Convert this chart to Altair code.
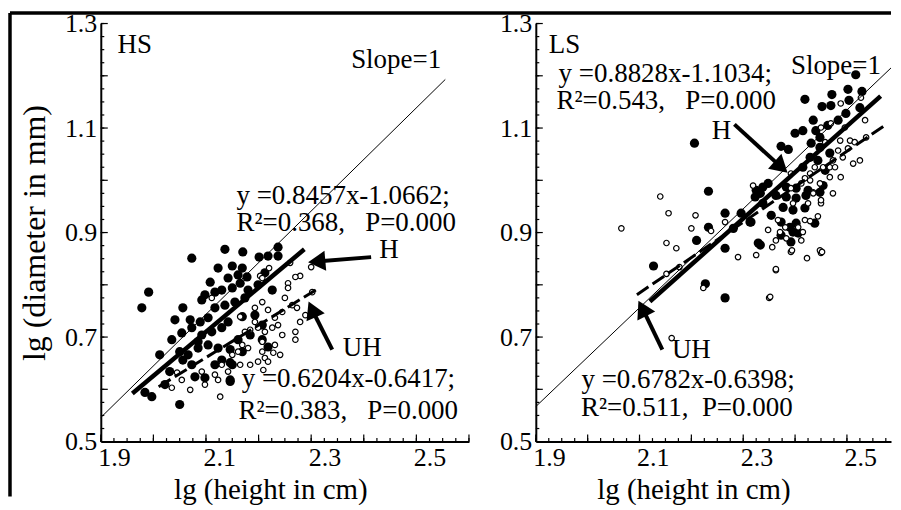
import altair as alt
import pandas as pd

FONT = "Liberation Serif"

# ---------------- data ----------------
X_LABELS = [1.9, 2.1, 2.3, 2.5]
Y_LABELS = [0.5, 0.7, 0.9, 1.1, 1.3]

# HS panel, H (filled) and UH (open) points: (lg height, lg diameter)
HS_H = [
    (2.073, 0.851), (2.136, 0.868), (2.170, 0.863), (2.201, 0.853), (2.218, 0.855), (2.237, 0.872), (2.237, 0.855),
    (2.123, 0.832), (2.150, 0.836), (2.169, 0.832), (2.161, 0.819), (2.142, 0.813), (2.178, 0.815), (2.212, 0.823),
    (1.991, 0.786), (1.978, 0.756), (2.056, 0.756), (2.092, 0.771), (2.117, 0.786), (2.150, 0.794), (2.180, 0.790),
    (2.226, 0.790), (2.070, 0.733), (2.089, 0.729), (2.104, 0.737), (2.117, 0.756), (2.136, 0.761), (2.155, 0.767),
    (2.174, 0.775), (2.193, 0.742), (2.207, 0.723), (2.035, 0.695), (2.054, 0.708), (2.073, 0.718), (2.092, 0.704),
    (2.111, 0.710), (2.130, 0.718), (2.142, 0.729), (2.169, 0.739), (2.050, 0.672), (2.066, 0.666), (2.085, 0.679),
    (2.104, 0.685), (2.123, 0.679), (2.085, 0.691), (2.073, 0.647), (2.056, 0.656), (2.117, 0.647), (2.130, 0.656),
    (2.218, 0.681), (2.079, 0.624), (2.098, 0.622), (2.146, 0.618), (2.150, 0.647), (1.984, 0.594), (1.997, 0.586),
    (2.022, 0.609), (2.050, 0.571), (2.108, 0.805), (2.098, 0.781), (2.130, 0.790), (2.165, 0.803), (2.199, 0.800),
    (2.041, 0.733), (2.012, 0.666), (2.031, 0.634), (2.161, 0.695), (2.184, 0.704), (2.207, 0.695), (2.146, 0.676),
    (2.146, 0.615), (2.169, 0.672), (2.146, 0.651),
]
HS_UH = [
    (2.220, 0.832), (2.203, 0.817), (2.260, 0.842), (2.300, 0.834), (2.279, 0.817), (2.270, 0.815), (2.256, 0.803),
    (2.207, 0.813), (2.111, 0.775), (2.165, 0.739), (2.193, 0.756), (2.207, 0.767), (2.218, 0.752), (2.231, 0.737),
    (2.245, 0.748), (2.256, 0.794), (2.273, 0.756), (2.264, 0.761), (2.289, 0.742), (2.302, 0.786), (2.199, 0.718),
    (2.212, 0.710), (2.226, 0.718), (2.237, 0.723), (2.245, 0.704), (2.270, 0.710), (2.270, 0.695), (2.207, 0.691),
    (2.169, 0.685), (2.180, 0.679), (2.150, 0.666), (2.161, 0.672), (2.207, 0.672), (2.212, 0.660), (2.218, 0.653),
    (2.228, 0.670), (2.130, 0.647), (2.117, 0.628), (2.092, 0.634), (2.054, 0.618), (2.035, 0.603), (2.184, 0.647),
    (2.209, 0.637), (2.127, 0.586), (2.045, 0.632), (2.193, 0.729), (2.250, 0.775), (2.184, 0.714), (2.231, 0.685),
    (2.165, 0.647), (2.142, 0.634), (2.070, 0.599), (2.098, 0.609), (2.123, 0.618), (2.241, 0.666), (2.199, 0.653),
    (2.174, 0.710), (2.279, 0.729),
]
# LS panel
LS_H = [
    (2.206, 1.071), (2.233, 0.979), (2.296, 0.937), (2.265, 0.870), (2.127, 0.836), (2.227, 0.802), (2.265, 0.775),
    (2.281, 0.908), (2.517, 1.202), (2.502, 1.174), (2.529, 1.170), (2.471, 1.164), (2.419, 1.155), (2.452, 1.141),
    (2.469, 1.143), (2.525, 1.139), (2.504, 1.153), (2.435, 1.115), (2.415, 1.095), (2.400, 1.090), (2.448, 1.082),
    (2.463, 1.105), (2.440, 1.095), (2.373, 1.065), (2.387, 1.059), (2.431, 1.071), (2.448, 1.063), (2.429, 1.044),
    (2.444, 1.038), (2.415, 1.025), (2.348, 0.994), (2.383, 0.987), (2.402, 0.985), (2.425, 0.981), (2.454, 0.990),
    (2.325, 0.981), (2.467, 1.052), (2.458, 1.019), (2.483, 1.115), (2.498, 1.128), (2.329, 0.975), (2.363, 0.971),
    (2.383, 0.968), (2.402, 0.966), (2.421, 0.971), (2.448, 0.977), (2.354, 0.933), (2.377, 0.948), (2.396, 0.943),
    (2.419, 0.947), (2.390, 0.910), (2.396, 0.901), (2.402, 0.918), (2.438, 0.918), (2.329, 0.880), (2.313, 0.920),
    (2.338, 0.956), (2.333, 0.975), (2.315, 0.920), (2.333, 0.876), (2.373, 0.920), (2.406, 0.899), (2.373, 0.895),
    (2.392, 0.882), (2.265, 0.937), (2.323, 0.968), (2.338, 0.987), (2.233, 0.910), (2.210, 0.885),
]
LS_UH = [
    (2.140, 0.969), (2.156, 0.937), (2.208, 0.933), (2.065, 0.908), (2.200, 0.908), (2.238, 0.903), (2.265, 0.920),
    (2.152, 0.880), (2.171, 0.870), (2.290, 0.853), (2.177, 0.834), (2.152, 0.821), (2.223, 0.794), (2.162, 0.698),
    (2.363, 0.828), (2.350, 0.775), (2.325, 0.857), (2.392, 0.863), (2.423, 0.851), (2.450, 0.861), (2.488, 1.147),
    (2.527, 1.158), (2.535, 1.115), (2.496, 1.101), (2.506, 1.076), (2.515, 1.073), (2.537, 1.082), (2.483, 1.057),
    (2.502, 1.061), (2.492, 1.044), (2.473, 1.038), (2.454, 1.025), (2.467, 1.025), (2.477, 1.025), (2.488, 1.006),
    (2.467, 1.006), (2.438, 1.025), (2.429, 1.013), (2.419, 1.004), (2.392, 1.013), (2.412, 0.994), (2.448, 0.994),
    (2.319, 0.990), (2.392, 0.985), (2.435, 0.977), (2.450, 1.101), (2.469, 1.109), (2.487, 1.076), (2.458, 1.073),
    (2.367, 0.924), (2.371, 0.901), (2.363, 0.885), (2.356, 0.872), (2.363, 0.830), (2.352, 0.777), (2.394, 0.866),
    (2.412, 0.885), (2.448, 0.866), (2.452, 0.863), (2.419, 0.924), (2.429, 0.922), (2.444, 0.931), (2.450, 0.956),
    (2.415, 0.901), (2.383, 0.889), (2.406, 0.910), (2.425, 0.956), (2.396, 0.956), (2.435, 0.975), (2.348, 0.905),
    (2.381, 0.910), (2.450, 0.962), (2.473, 0.975), (2.512, 1.032), (2.525, 1.038), (2.429, 1.000),
]

# fitted lines (end points) and slope=1 reference lines
HS_FIT_H = [(1.960, 0.592), (2.287, 0.868)]
HS_FIT_UH = [(2.010, 0.605), (2.310, 0.791)]
HS_SLOPE = [(1.900, 0.546), (2.555, 1.193)]
LS_FIT_H = [(2.120, 0.768), (2.565, 1.161)]
LS_FIT_UH = [(2.095, 0.781), (2.570, 1.103)]
LS_SLOPE = [(1.900, 0.567), (2.585, 1.215)]

# annotation texts
HS_TEXT_LEFT = [
    (1.932, 1.258, "HS"), (2.376, 1.231, "Slope=1"),
    (2.158, 0.970, "y =0.8457x-1.0662;"), (2.158, 0.918, "R²=0.368,\u00a0\u00a0\u00a0P=0.000"),
    (2.168, 0.620, "y =0.6204x-0.6417;"), (2.162, 0.559, "R²=0.383,\u00a0\u00a0\u00a0P=0.000"),
]
HS_TEXT_CENTER = [(2.448, 0.866, "H"), (2.397, 0.679, "UH")]
LS_TEXT_LEFT = [
    (1.925, 1.258, "LS"), (2.392, 1.219, "Slope=1"),
    (1.944, 1.204, "y =0.8828x-1.1034;"), (1.940, 1.151, "R²=0.543,\u00a0\u00a0\u00a0P=0.000"),
    (1.988, 0.618, "y =0.6782x-0.6398;"), (1.987, 0.565, "R²=0.511,\u00a0\u00a0P=0.000"),
]
LS_TEXT_CENTER = [(2.258, 1.095, "H"), (2.200, 0.676, "UH")]

# arrows: tail x, tail y, head x, head y, head angle
HS_ARROWS = [(2.414, 0.853, 2.316, 0.845, 265), (2.340, 0.676, 2.304, 0.748, 336)]
LS_ARROWS = [(2.283, 1.107, 2.369, 1.029, 132), (2.144, 0.676, 2.108, 0.750, 333)]

# ---------------- layout ----------------
H = 419
W_L, W_R, GAP = 369, 356, 67


def steps(lo, hi, step):
    n = int(round((hi - lo) / step))
    return [round(lo + i * step, 4) for i in range(n + 1) if lo + i * step <= hi + 1e-9]


def panel(h_pts, uh_pts, fit_h, fit_uh, slope, t_left, t_center, arrows, W, xmax,
          ytitle, title_x, frame):
    xs = alt.Scale(domain=[1.9, xmax], nice=False, zero=False)
    ys = alt.Scale(domain=[0.5, 1.3], nice=False, zero=False)

    xlab = alt.Axis(values=X_LABELS, format=".1f", ticks=False, tickSize=0, domainColor="black",
                    domainWidth=2, labelAlign="left", labelBaseline="top", labelOffset=-3, labelPadding=3,
                    labelFont=FONT, labelFontSize=26, labelColor="black", labelFlush=False,
                    labelOverlap=False, grid=False, title="lg (height in cm)", titleFont=FONT,
                    titleFontSize=29, titleFontWeight="normal", titleColor="black", titleX=title_x,
                    titleY=48, titleAlign="center", titleBaseline="middle", titleAngle=0)
    ykw = dict(values=Y_LABELS, format=".1f", ticks=False, tickSize=0, domainColor="black",
               domainWidth=2, labelFont=FONT, labelFontSize=26, labelColor="black", labelPadding=4,
               labelFlush=False, labelOverlap=False, grid=False)
    if ytitle:
        ykw.update(title=ytitle, titleFont=FONT, titleFontSize=32, titleFontWeight="normal",
                   titleColor="black", titleX=-66, titleY=H / 2, titleAngle=270, titleAlign="center",
                   titleBaseline="middle")
    else:
        ykw.update(title=None)
    ylab = alt.Axis(**ykw)

    def X(axis, f="x"):
        return alt.X(f + ":Q", scale=xs, axis=axis)

    def Y(axis, f="y"):
        return alt.Y(f + ":Q", scale=ys, axis=axis)

    dh = pd.DataFrame(h_pts, columns=["x", "y"])
    du = pd.DataFrame(uh_pts, columns=["x", "y"])
    filled = alt.Chart(dh).mark_point(shape="circle", size=85, filled=True, color="black",
                                      opacity=1).encode(x=X(xlab), y=Y(ylab))
    hollow = alt.Chart(du).mark_point(shape="circle", size=30, filled=True, fill="white", stroke="black",
                                      strokeWidth=1.2, opacity=1).encode(x=X(None), y=Y(None))
    sl = alt.Chart(pd.DataFrame(slope, columns=["x", "y"])).mark_line(
        color="black", strokeWidth=1).encode(x=X(None), y=Y(None))
    fh = alt.Chart(pd.DataFrame(fit_h, columns=["x", "y"])).mark_line(
        color="black", strokeWidth=4.5).encode(x=X(None), y=Y(None))
    fu = alt.Chart(pd.DataFrame(fit_uh, columns=["x", "y"])).mark_line(
        color="black", strokeWidth=3, strokeDash=[14, 5]).encode(x=X(None), y=Y(None))
    tl = alt.Chart(pd.DataFrame(t_left, columns=["x", "y", "t"])).mark_text(
        align="left", baseline="middle", font=FONT, fontSize=27, color="black").encode(
        x=X(None), y=Y(None), text="t:N")
    tc = alt.Chart(pd.DataFrame(t_center, columns=["x", "y", "t"])).mark_text(
        align="center", baseline="middle", font=FONT, fontSize=27, color="black").encode(
        x=X(None), y=Y(None), text="t:N")
    shaft_rows = []
    head_rows = []
    for i, (x0, y0, x1, y1, a) in enumerate(arrows):
        shaft_rows += [{"id": i, "x": x0, "y": y0}, {"id": i, "x": x1, "y": y1}]
        head_rows.append({"x": x1, "y": y1, "a": a})
    shafts = alt.Chart(pd.DataFrame(shaft_rows)).mark_line(color="black", strokeWidth=4).encode(
        x=X(None), y=Y(None), detail="id:N")
    heads = alt.Chart(pd.DataFrame(head_rows)).mark_point(
        shape="triangle", filled=True, size=400, color="black", opacity=1).encode(
        x=X(None), y=Y(None), angle=alt.Angle("a:Q", scale=None))

    # inward tick marks (major every 0.1, minor every 0.025)
    tick_layers = []
    for step, size in ((0.1, 7), (0.025, 3.5)):
        tick_layers.append(alt.Chart(pd.DataFrame({"v": steps(1.9, xmax, step)})).mark_rule(
            color="black", strokeWidth=1.2).encode(x=X(None, "v"), y=alt.value(H), y2=alt.value(H - size)))
        tick_layers.append(alt.Chart(pd.DataFrame({"v": steps(0.5, 1.3, step)})).mark_rule(
            color="black", strokeWidth=1.2).encode(y=Y(None, "v"), x=alt.value(0), x2=alt.value(size)))

    layers = [filled, hollow, sl, fh, fu, tl, tc, shafts, heads] + tick_layers
    if frame:
        one = pd.DataFrame({"k": [0]})
        layers.append(alt.Chart(one).mark_rule(color="black", strokeWidth=3.5).encode(
            x=alt.value(-91), x2=alt.value(W_L + GAP + W_R), y=alt.value(-10.5)))
        layers.append(alt.Chart(one).mark_rule(color="black", strokeWidth=3.5).encode(
            x=alt.value(-91), y=alt.value(-10.5), y2=alt.value(474)))
    return alt.layer(*layers).resolve_axis(x="independent", y="independent").properties(
        width=W, height=H)


left = panel(HS_H, HS_UH, HS_FIT_H, HS_FIT_UH, HS_SLOPE, HS_TEXT_LEFT, HS_TEXT_CENTER, HS_ARROWS,
             W_L, 2.6, "lg (diameter in mm)", 170, True)
right = panel(LS_H, LS_UH, LS_FIT_H, LS_FIT_UH, LS_SLOPE, LS_TEXT_LEFT, LS_TEXT_CENTER, LS_ARROWS,
              W_R, 2.585, None, 158, False)

# configure(...) replaces the whole config, so it must come before configure_view(...)
chart = alt.hconcat(left, right, spacing=GAP, bounds="flush").properties(
    padding={"left": 0, "top": 2, "right": 0, "bottom": 0}
).configure(font=FONT).configure_view(stroke=None)

chart.save("out.html", embed_options={"renderer": "svg", "actions": False})
